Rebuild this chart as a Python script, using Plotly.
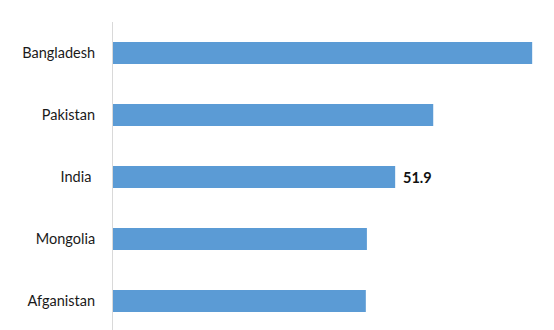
import plotly.graph_objects as go

countries = ["Afganistan", "Mongolia", "India\u00a0", "Pakistan", "Bangladesh"]
values = [46.5, 46.7, 51.9, 58.9, 77.1]
labelled = "India\u00a0"

fig = go.Figure()
fig.add_trace(go.Bar(
    x=values, y=countries, orientation="h",
    marker=dict(color="#5b9bd5", line=dict(width=0)),
    width=0.355, hoverinfo="skip",
))
for c, v in zip(countries, values):
    if c == labelled:
        fig.add_annotation(x=v, y=c, text="<b>%.1f</b>" % v, showarrow=False,
                           xanchor="left", xshift=6, yshift=-1,
                           font=dict(family="Lato, 'Open Sans', sans-serif", size=14.5, color="#111111"))

fig.update_layout(
    width=554, height=330,
    margin=dict(l=113, r=21, t=22, b=0),
    paper_bgcolor="white", plot_bgcolor="white",
    showlegend=False,
    font=dict(family="Lato, 'Open Sans', sans-serif", size=14.5, color="#1a1a1a"),
    xaxis=dict(range=[0, 77.25], showgrid=False, zeroline=False, showticklabels=False,
               showline=False, fixedrange=True),
    yaxis=dict(type="category", categoryorder="array", categoryarray=countries,
               range=[-0.468, 4.5], showgrid=False, zeroline=False,
               showline=True, linecolor="#d9d9d9", linewidth=1,
               ticks="outside", ticklen=14, tickcolor="rgba(0,0,0,0)",
               tickfont=dict(size=14.5)),
)
fig.write_html("out.html")
